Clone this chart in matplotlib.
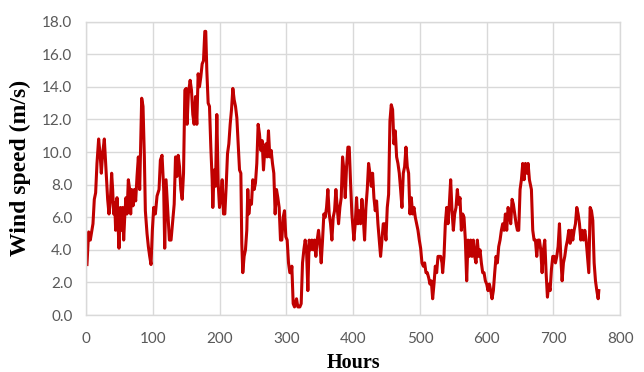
import numpy as np
import matplotlib
matplotlib.use("Agg")
import matplotlib.pyplot as plt
from matplotlib.ticker import FormatStrFormatter

# hourly wind speed (roughly every 2 h)
hours_a = [1, 3.5, 6, 8, 10, 12, 14, 16, 18.5, 21, 22.5, 24.5, 27, 28.5, 30, 32, 34, 36, 38,
           39.5, 41, 42.5, 44, 46, 47.5, 49, 51, 53, 54.5, 56, 58, 59.5, 61, 63, 65, 66.5,
           68, 70, 72, 74, 76, 78, 80, 81.5, 83, 85, 87, 88.5, 91, 93, 95, 97, 99, 101,
           103.5, 106, 109, 111, 113.5, 116, 117.5, 119.5, 122, 124.5, 127]
speed_a = [3.1, 5.1, 4.6, 5.1, 5.6, 7.1, 7.5, 9.3, 10.8, 9.7, 8.7, 9.9, 10.8, 9.7, 8.7, 7.1,
           6.2, 7.0, 8.7, 7.7, 6.2, 6.9, 5.2, 7.2, 5.6, 4.1, 6.6, 5.2, 6.6, 4.6, 6.4, 7.2,
           6.2, 8.3, 7.7, 6.2, 7.7, 6.7, 7.7, 7.0, 8.5, 9.7, 7.7, 10.5, 13.3, 12.8, 9.7, 6.4,
           5.0, 4.2, 3.6, 3.1, 5.2, 6.6, 6.2, 7.3, 7.7, 9.5, 9.8, 7.7, 4.1, 8.3, 6.4, 4.6, 4.6]

hours_b = [130, 131.7, 133.7, 135.7, 137.7, 139.7, 141.7, 143.7, 145.7, 147.7, 149.7, 151,
           153, 155.6, 157.6, 159.6, 161.6, 163.6, 165.6, 167.6, 169.6, 171.6, 173.6, 175.6,
           177.6, 179, 180.6, 182.6, 184.6, 186.6, 188.6, 189.6, 191.6, 193.6, 195.6, 197.6,
           199.6, 201.6, 203.6, 205.6, 207.6, 209.6, 211.6, 213.6, 215.6, 217.6, 219.6,
           221.6, 223.6, 225.6, 227.6, 229.6, 231.6, 233, 234.5, 236.5, 238.5, 240.5, 242,
           243.5, 245.5, 247.5, 249.5, 251.5, 253.5, 255.5, 257.5, 259.5, 261.5, 263.5,
           265.5, 267.4]
speed_b = [6.0, 6.8, 9.7, 8.5, 9.8, 9.1, 7.7, 7.1, 8.7, 13.8, 13.9, 11.7, 13.6, 14.4, 13.8,
           12.3, 11.7, 13.4, 11.7, 14.8, 14.0, 14.6, 15.4, 15.6, 17.4, 17.4, 15.0, 13.0, 12.8,
           10.3, 8.3, 6.6, 8.9, 7.9, 12.3, 8.1, 6.6, 7.2, 8.3, 6.2, 6.2, 7.9, 9.9, 10.5, 11.7,
           12.6, 13.9, 13.2, 12.8, 12.1, 10.5, 8.9, 8.7, 4.4, 2.6, 3.6, 4.0, 5.2, 7.7, 6.2,
           7.0, 6.8, 8.3, 7.7, 8.1, 9.3, 11.7, 11.1, 10.1, 10.7, 8.9, 10.1]

hours_c = [269, 271, 273, 275, 277, 279, 281, 283, 285, 287, 289, 291, 293, 295, 297, 299,
           301, 303, 305, 307, 308, 310, 312, 315, 317, 320, 322, 324, 326, 328, 330, 332,
           334, 336, 338, 340, 342, 344, 346, 348, 350, 352, 354, 356, 358, 360, 362, 364,
           366, 368, 370, 372, 374, 376, 378, 380, 382, 384, 386, 388, 390, 392, 394, 396,
           398]
speed_c = [10.5, 9.7, 11.3, 9.7, 10.1, 9.3, 8.7, 6.2, 7.7, 7.2, 6.6, 4.6, 4.6, 6.0, 6.4,
           4.8, 4.6, 3.2, 2.6, 2.6, 3.0, 0.7, 0.5, 1.0, 0.5, 0.5, 0.7, 3.2, 4.0, 4.6, 4.0,
           1.5, 4.6, 4.0, 4.6, 4.0, 4.6, 3.6, 4.6, 5.2, 4.4, 3.2, 4.6, 6.2, 6.0, 6.6, 7.7,
           6.2, 5.6, 4.6, 6.0, 6.4, 7.7, 6.6, 5.6, 6.6, 7.2, 9.7, 8.9, 7.2, 9.1, 10.3, 10.3,
           8.1, 6.2]

hours_d = [401, 403, 405, 407, 409, 411, 413, 415, 417, 419, 421, 423, 425, 427, 429, 431,
           433, 435, 437, 439, 441, 443, 445, 447, 449, 451, 453, 455, 457, 459, 461, 463,
           465, 467, 469, 471, 473, 475, 477, 479, 481, 483, 485, 487, 489, 491, 493, 495,
           497, 499, 501, 503, 505, 507, 509, 511, 513, 515, 517, 519, 521, 523, 525, 527,
           529, 531, 533]
speed_d = [4.6, 5.6, 7.2, 5.6, 6.4, 5.6, 7.1, 6.0, 4.6, 6.6, 7.7, 9.3, 8.7, 7.9, 8.7, 7.2,
           6.4, 7.0, 5.6, 4.6, 3.6, 4.6, 5.6, 5.6, 4.6, 6.6, 7.4, 11.9, 12.9, 12.6, 10.5,
           11.3, 9.7, 9.3, 8.7, 7.7, 6.6, 8.7, 9.1, 10.3, 9.1, 8.7, 6.2, 7.2, 6.2, 6.6, 6.0,
           5.6, 5.2, 4.6, 4.1, 3.2, 3.0, 3.2, 2.6, 2.6, 2.3, 1.9, 2.1, 1.0, 1.9, 3.0, 2.6,
           3.6, 3.6, 3.6, 3.2]

hours_e = [534, 536, 538, 540, 542, 544, 546, 548, 550, 552, 554, 556, 558, 560, 562, 564,
           566, 568, 570, 572, 574, 576, 578, 580, 582, 584, 586, 588, 590, 592, 594, 596,
           598, 600, 602, 604, 606, 608, 610, 612, 614, 616, 618, 620, 622, 624, 626, 628,
           630, 632, 634, 636, 638, 640, 642, 644, 646, 648, 650, 652, 654, 656, 658, 660,
           662, 664]
speed_e = [2.6, 3.6, 5.6, 6.6, 5.6, 6.8, 8.3, 6.4, 5.2, 6.2, 6.6, 7.7, 6.8, 7.2, 5.2, 6.2,
           6.0, 4.6, 2.1, 4.6, 3.6, 4.6, 3.6, 4.6, 3.6, 3.2, 4.6, 3.6, 4.0, 3.2, 2.6, 2.6,
           2.1, 1.9, 1.5, 1.9, 1.5, 1.0, 1.5, 2.6, 3.6, 3.2, 4.2, 4.6, 5.2, 5.6, 5.2, 6.2,
           5.2, 6.6, 6.2, 5.6, 7.1, 6.8, 6.2, 5.6, 5.2, 5.2, 7.7, 8.3, 9.3, 8.3, 9.3, 8.7,
           9.3, 8.3]

hours_f = [667, 669, 671, 673, 675, 677, 679, 681, 683, 685, 687, 689, 691, 693, 695, 697,
           699, 701, 703, 705, 707, 709, 711, 713, 715, 717, 719, 721, 723, 725, 727, 729,
           731, 733, 735, 737, 739, 741, 743, 745, 747, 749, 751, 753, 755, 757, 759, 761,
           763, 765, 767, 768]
speed_f = [7.7, 5.2, 4.6, 4.6, 3.6, 4.6, 4.6, 4.0, 2.6, 4.0, 4.6, 2.6, 1.1, 1.9, 1.5, 2.8,
           3.6, 3.6, 3.2, 3.6, 4.2, 5.6, 3.6, 2.1, 3.2, 3.6, 4.2, 4.6, 5.2, 4.4, 5.2, 4.6,
           5.2, 5.6, 6.6, 6.2, 5.6, 4.6, 5.2, 4.6, 5.2, 4.6, 3.6, 2.6, 6.6, 6.4, 5.8, 3.2,
           2.1, 1.5, 1.0, 1.5]

x_ticks = [0, 100, 200, 300, 400, 500, 600, 700, 800]
y_ticks = [0, 2, 4, 6, 8, 10, 12, 14, 16, 18]

hours = np.concatenate([hours_a, hours_b, hours_c, hours_d, hours_e, hours_f])
speed = np.concatenate([speed_a, speed_b, speed_c, speed_d, speed_e, speed_f])

fig = plt.figure(figsize=(6.44, 3.72), dpi=100)
ax = fig.add_axes([0.134, 0.153, 0.829, 0.789])

ax.plot(hours, speed, color='#C00000', linewidth=2.2, solid_joinstyle='round')

ax.set_xlim(0, 800)
ax.set_ylim(0, 18)
ax.set_xticks(x_ticks)
ax.set_yticks(y_ticks)
ax.yaxis.set_major_formatter(FormatStrFormatter('%.1f'))
ax.grid(True, color='#D9D9D9', linewidth=1.0)
ax.set_axisbelow(True)
for s in ax.spines.values():
    s.set_color('#D9D9D9')
    s.set_linewidth(1.0)
ax.tick_params(length=0, labelsize=11, labelcolor='#595959')
ax.tick_params(axis='x', pad=12)
ax.tick_params(axis='y', pad=10)
for lbl in ax.get_xticklabels() + ax.get_yticklabels():
    lbl.set_family('Lato')

ax.set_xlabel('Hours', family='Liberation Serif', fontweight='bold', fontsize=14.5, labelpad=5)
ax.set_ylabel('Wind speed (m/s)', family='Liberation Serif', fontweight='bold', fontsize=17, labelpad=8)

fig.savefig('out.png', dpi=100)
